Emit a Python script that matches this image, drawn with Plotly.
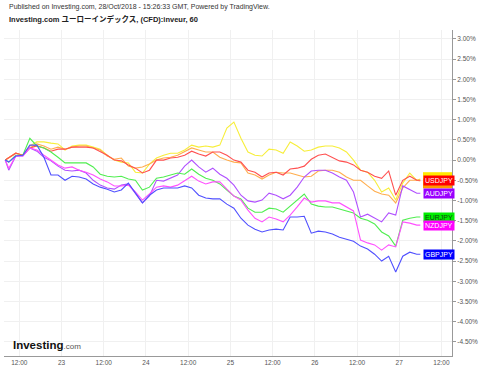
import plotly.graph_objects as go

# hours since 22/Oct 00:00
hours = [8, 9, 11, 13, 15, 17, 19, 21, 23, 25, 27, 29, 31, 33, 35, 37, 39, 41, 43, 45, 47,
         49, 51, 53, 55, 57, 59, 61, 63, 65, 67, 69, 71, 73, 75, 77, 79, 81, 83, 85, 87,
         89, 91, 93, 95, 97, 99, 101, 103, 105, 107, 109, 111, 113, 115, 117, 119, 121,
         123, 125, 126]

usdjpy = [0, 0.05, 0.17, 0.12, 0.30, 0.35, 0.30, 0.22, 0.27, 0.27, 0.32, 0.32, 0.32, 0.30, 0.22,
          0.12, 0, -0.02, -0.12, -0.20, -0.32, -0.25, 0, 0, 0.05, 0.07, 0.12, 0.22, 0.15, 0.10,
          0.20, 0.20, 0.12, 0, -0.05, -0.25, -0.30, -0.42, -0.32, -0.30, -0.37, -0.22, -0.20,
          -0.15, 0.02, 0.12, 0.15, 0.07, -0.02, -0.05, -0.12, -0.25, -0.30, -0.40, -0.45, -0.27,
          -0.87, -0.50, -0.40, -0.50, -0.50]
yellow = [0, 0.05, 0.17, 0.12, 0.35, 0.45, 0.45, 0.42, 0.40, 0.25, 0.35, 0.37, 0.37, 0.32, 0.27,
          0.12, 0, -0.05, -0.07, -0.30, -0.32, -0.10, 0.05, 0.12, 0.17, 0.17, 0.25, 0.37, 0.32,
          0.35, 0.32, 0.37, 0.79, 0.94, 0.54, 0.20, 0.12, 0.10, 0.27, 0.25, 0.17, 0.45, 0.35,
          0.22, 0.25, 0.32, 0.35, 0.35, 0.30, 0.20, 0, -0.25, -0.30, -0.50, -0.79, -0.69, -0.99,
          -0.57, -0.32, -0.50, -0.47]
orange = [0, 0.05, 0.17, 0.12, 0.30, 0.40, 0.35, 0.27, 0.32, 0.27, 0.32, 0.35, 0.35, 0.30, 0.25,
          0.10, 0.02, 0.05, -0.15, -0.20, -0.17, -0.10, 0, 0.05, 0.07, 0.12, 0.20, 0.30, 0.25,
          0.20, 0.20, 0.07, 0, -0.05, -0.07, -0.32, -0.37, -0.47, -0.37, -0.30, -0.32, -0.32,
          -0.37, -0.42, -0.40, -0.27, -0.25, -0.25, -0.30, -0.42, -0.50, -0.50, -0.64, -0.77,
          -0.84, -0.87, -1.06, -0.69, -0.50, -0.50, -0.52]
audjpy = [0, -0.25, 0.10, 0.10, 0.30, 0.22, 0.07, -0.02, -0.15, -0.25, -0.27, -0.25, -0.32, -0.50,
          -0.62, -0.69, -0.72, -0.62, -0.59, -0.84, -1.06, -0.89, -0.50, -0.52, -0.45, -0.37,
          -0.15, 0, -0.17, -0.30, -0.20, -0.35, -0.45, -0.62, -0.87, -1.01, -1.04, -0.99, -0.82,
          -0.87, -0.96, -0.87, -0.67, -0.42, -0.27, -0.25, -0.25, -0.32, -0.42, -0.50, -0.79,
          -1.41, -1.34, -1.44, -1.53, -1.31, -1.36, -0.64, -0.74, -0.82, -0.82]
eurjpy = [0, -0.05, 0.12, 0.12, 0.54, 0.35, 0.30, 0.20, 0.07, -0.07, -0.07, -0.07, -0.07, -0.17,
          -0.35, -0.40, -0.42, -0.40, -0.47, -0.50, -0.74, -0.67, -0.45, -0.42, -0.37, -0.32,
          -0.35, -0.22, -0.35, -0.45, -0.50, -0.59, -0.74, -0.89, -0.96, -1.19, -1.29, -1.29,
          -1.19, -1.21, -1.29, -1.14, -1.01, -0.84, -1.09, -1.14, -1.16, -1.16, -1.21, -1.26,
          -1.31, -1.44, -1.49, -1.58, -1.78, -1.88, -2.13, -1.49, -1.44, -1.41, -1.41]
nzdjpy = [0, -0.20, 0.10, 0.10, 0.30, 0.25, 0.12, 0, -0.12, -0.20, -0.17, -0.25, -0.30, -0.37,
          -0.47, -0.54, -0.64, -0.64, -0.62, -0.79, -0.99, -0.84, -0.67, -0.64, -0.67, -0.62,
          -0.50, -0.40, -0.52, -0.59, -0.54, -0.54, -0.72, -0.89, -0.99, -1.24, -1.44, -1.53,
          -1.41, -1.46, -1.53, -1.36, -1.16, -0.94, -1.04, -1.01, -1.01, -1.06, -1.06, -1.16,
          -1.26, -1.98, -2.05, -2.10, -2.23, -2.10, -2.15, -1.53, -1.56, -1.61, -1.61]
gbpjpy = [0, -0.05, 0.10, 0.12, 0.37, 0.37, 0.07, -0.37, -0.37, -0.50, -0.40, -0.42, -0.47, -0.59,
          -0.67, -0.72, -0.79, -0.74, -0.57, -0.82, -1.06, -0.87, -0.74, -0.69, -0.69, -0.69,
          -0.64, -0.69, -0.87, -0.94, -0.96, -0.96, -1.09, -1.19, -1.44, -1.61, -1.71, -1.78,
          -1.73, -1.71, -1.73, -1.41, -1.41, -1.39, -1.81, -1.76, -1.78, -1.83, -1.91, -1.96,
          -2.01, -2.13, -2.20, -2.33, -2.50, -2.38, -2.77, -2.38, -2.28, -2.33, -2.33]

tick_hours = [12, 24, 36, 48, 60, 72, 84, 96, 108, 120, 132]
tick_text = ["12:00", "23", "12:00", "24", "12:00", "25", "12:00", "26", "12:00", "27", "12:00"]
y_ticks = [3.0, 2.5, 2.0, 1.5, 1.0, 0.5, 0.0, -0.5, -1.0, -1.5, -2.0, -2.5, -3.0, -3.5, -4.0, -4.5]
y_text = ["%.2f%%" % v for v in y_ticks]

series = [
    ("yellow", yellow, "#f7ee3a"),
    ("orange", orange, "#ffad4d"),
    ("USDJPY", usdjpy, "#ff5050"),
    ("AUDJPY", audjpy, "#b050ff"),
    ("EURJPY", eurjpy, "#50ee50"),
    ("NZDJPY", nzdjpy, "#ff50ff"),
    ("GBPJPY", gbpjpy, "#5050ff"),
]

W, H = 480, 369
L, R, T, B = 4, 452, 30, 356


def px(x):
    return (x - L) / (R - L)


def py(y):
    return (B - y) / (B - T)


fig = go.Figure()
for name, vals, col in series:
    fig.add_trace(go.Scatter(x=hours, y=vals, mode="lines", name=name,
                             line=dict(color=col, width=1.1), showlegend=False,
                             hoverinfo="skip"))

FONT = "Liberation Sans, Arial, Noto Sans CJK JP, sans-serif"
ann = []
shapes = []
# hidden labels behind USDJPY (only their edges show)
for v, col in [(yellow[-1] + 0.05, "#ffe800"), (orange[-1] - 0.06, "#ff9900")]:
    shapes.append(dict(type="rect", xref="paper", yref="y", x0=px(423), x1=px(452),
                       y0=v - 0.12, y1=v + 0.12, fillcolor=col, line=dict(width=0), layer="above"))

labels = [
    ("USDJPY", usdjpy[-1], "#ff0000", "white"),
    ("AUDJPY", audjpy[-1], "#9900ff", "white"),
    ("EURJPY", eurjpy[-1], "#00ee00", "#114411"),
    ("NZDJPY", nzdjpy[-1], "#ff00ff", "white"),
    ("GBPJPY", gbpjpy[-1], "#0000ff", "white"),
]
for name, v, bg, fc in labels:
    ann.append(dict(x=px(423), xref="paper", y=v, yref="y", text=name, showarrow=False,
                    xanchor="left", yanchor="middle", bgcolor=bg, borderpad=1,
                    font=dict(size=7, color=fc, family=FONT)))

ann.append(dict(x=px(7), xref="paper", y=py(7), yref="paper", xanchor="left", yanchor="middle",
                showarrow=False,
                text="Published on Investing.com, 28/Oct/2018 - 15:26:33 GMT, Powered by TradingView.",
                font=dict(size=7, color="#333333", family=FONT)))
ann.append(dict(x=px(7), xref="paper", y=py(19), yref="paper", xanchor="left", yanchor="middle",
                showarrow=False,
                text="<b>Investing.com ユーローインデックス, (CFD):inveur, 60</b>",
                font=dict(size=7.5, color="#222222", family=FONT)))
ann.append(dict(x=px(11), xref="paper", y=py(345), yref="paper", xanchor="left", yanchor="middle",
                showarrow=False,
                text="<b>Investing</b><span style='font-size:8px;color:#555555'>.com</span>",
                font=dict(size=11.5, color="#111111", family=FONT)))

fig.update_layout(
    width=W, height=H,
    margin=dict(l=L, r=W - R, t=T, b=H - B),
    paper_bgcolor="white", plot_bgcolor="white",
    annotations=ann, shapes=shapes,
    xaxis=dict(range=[7.65, 135.0], tickvals=tick_hours, ticktext=tick_text,
               showgrid=True, gridcolor="#f0f0f0", gridwidth=1, zeroline=False,
               showline=True, linecolor="#999999", linewidth=1, ticks="",
               tickfont=dict(size=6.5, color="#555555", family=FONT), fixedrange=True,
               automargin=False),
    yaxis=dict(range=[-4.85, 3.22], side="right", tickvals=y_ticks, ticktext=y_text,
               showgrid=True, gridcolor="#f0f0f0", gridwidth=1, zeroline=False,
               showline=True, linecolor="#999999", linewidth=1, ticks="outside",
               ticklen=3, tickcolor="#999999",
               tickfont=dict(size=6.5, color="#555555", family=FONT), fixedrange=True,
               automargin=False),
)

fig.write_html("out.html", config={"displayModeBar": False},
               post_script="document.body.style.margin='0px';document.body.style.padding='0px';")
